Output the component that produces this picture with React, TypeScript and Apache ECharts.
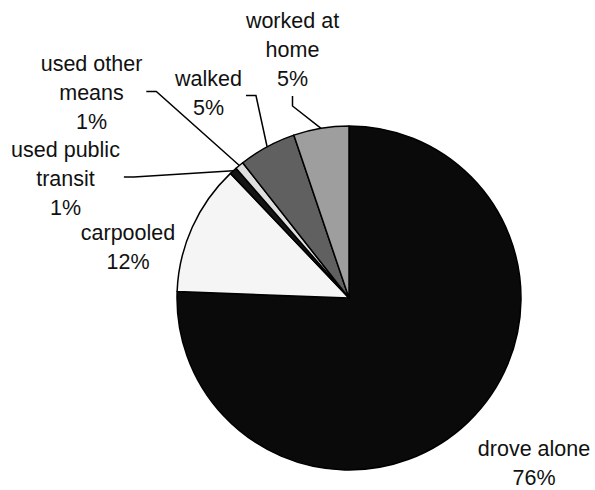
import React, { useEffect, useRef } from 'react';
import * as echarts from 'echarts';

// Data
const categories = ['drove alone', 'carpooled', 'used public transit', 'used other means', 'walked', 'worked at home'];
const labelNames = ['drove alone', 'carpooled', 'used public\ntransit', 'used other\nmeans', 'walked', 'worked at\nhome'];
const shares = [75.6, 12.3, 0.7, 0.8, 5.4, 5.2];

// Styles / layout (kept separate from data)
const sliceColors = ['#0a0a0a', '#f5f5f5', '#141414', '#dedede', '#606060', '#9e9e9e'];
const labelCenters: number[][] = [[534, 463], [128, 247.5], [65.5, 179], [91.5, 92.5], [208.5, 93.5], [292.5, 49.5]];
const leaderStyle = ['none', 'none', 'side', 'side', 'side', 'below'];
const leaderDy = [0, 0, -2, -1, 2, 0];

export default function App() {
  const ref = useRef<HTMLDivElement>(null);
  useEffect(() => {
    if (!ref.current) return;
    const chart = echarts.init(ref.current, undefined, { renderer: 'svg' });
    chart.setOption({
      animation: false,
      backgroundColor: '#ffffff',
      series: [
        {
          type: 'pie',
          center: [349, 298],
          radius: 172,
          startAngle: 90,
          clockwise: true,
          avoidLabelOverlap: false,
          silent: true,
          emphasis: { disabled: true },
          itemStyle: { borderColor: '#000', borderWidth: 1.5 },
          data: categories.map((c, i) => ({
            name: c,
            value: shares[i],
            itemStyle: { color: sliceColors[i] },
            labelLine: { show: leaderStyle[i] !== 'none' },
          })),
          label: {
            show: true,
            position: 'outside',
            formatter: (p: any) => labelNames[p.dataIndex] + '\n' + Math.round(p.value) + '%',
            fontFamily: '"Liberation Sans", Arial, sans-serif',
            fontSize: 21.5,
            lineHeight: 29,
            color: '#111',
            align: 'center',
          },
          labelLine: {
            show: true,
            length: 10,
            length2: 10,
            lineStyle: { color: '#000', width: 1.5 },
          },
          labelLayout: (params: any) => {
            const i = params.dataIndex;
            const [cx, cy] = labelCenters[i];
            const w = params.labelRect.width;
            const h = params.labelRect.height;
            const p0 = params.labelLinePoints ? params.labelLinePoints[0] : [cx, cy];
            let pts: number[][] | undefined;
            if (leaderStyle[i] === 'below') {
              const yb = cy + h / 2 + 3;
              pts = [p0, [cx, yb + 10], [cx, yb]];
            } else if (leaderStyle[i] === 'side') {
              const xr = cx + w / 2 + 4;
              const yy = cy + leaderDy[i];
              pts = [p0, [xr + 10, yy], [xr, yy]];
            }
            const out: any = { x: cx, y: cy, align: 'center', verticalAlign: 'middle' };
            if (pts) out.labelLinePoints = pts;
            return out;
          },
        },
      ],
    });
    return () => chart.dispose();
  }, []);
  return (
    <div
      ref={ref}
      style={{ position: 'absolute', left: 0, top: 0, width: 595, height: 490, background: '#fff' }}
    />
  );
}
